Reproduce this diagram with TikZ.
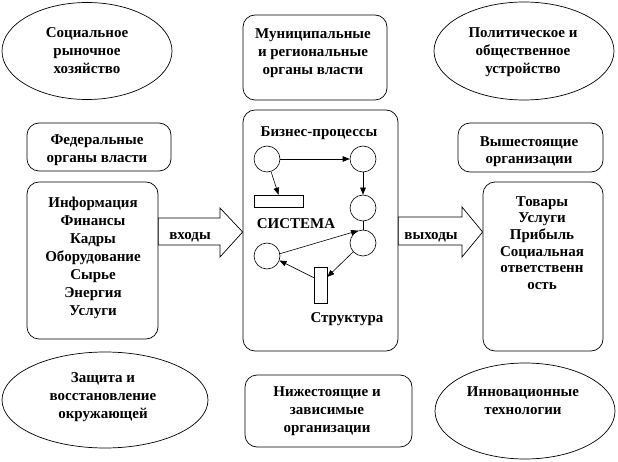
\documentclass[tikz,border=0pt]{standalone}
\usepackage{fontspec}
\setmainfont{Liberation Serif}
\usetikzlibrary{shapes.geometric,arrows.meta,calc}
\begin{document}
\begin{tikzpicture}[x=1pt,y=-1pt,
  txt/.style={font=\fontsize{15}{18}\selectfont\bfseries, align=center, inner sep=0pt},
  txtb/.style={txt, font=\fontsize{15}{16.7}\selectfont\bfseries},
  oval/.style={draw, line width=0.7pt, ellipse, inner sep=0pt},
  rbox/.style={draw, line width=0.7pt, rounded corners=12pt, inner sep=0pt},
  bigarrow/.style={draw, line width=0.7pt, fill=white},
  proc/.style={draw, line width=0.6pt, circle, minimum size=26pt, inner sep=0pt},
  bar/.style={draw, line width=0.6pt, rectangle, inner sep=0pt},
  flow/.style={line width=0.6pt, -{Triangle[length=7pt,width=5.5pt]}},
  link/.style={line width=0.6pt}
]
\useasboundingbox (0,0) rectangle (618,462);

% ellipses
\node[oval, minimum width=170pt, minimum height=97pt] (soc) at (87,51) {};
\node[txt] (soct) at (87,51) {Социальное\\рыночное\\хозяйство};
\node[oval, minimum width=180pt, minimum height=98pt] (pol) at (524,51) {};
\node[txt] (polt) at (523,52) {Политическое и\\общественное\\устройство};
\node[oval, minimum width=206pt, minimum height=96pt] (zas) at (105,400) {};
\node[txt] (zast) at (103,397) {Защита и\\восстановление\\окружающей};
\node[oval, minimum width=180pt, minimum height=96pt] (inn) at (525,411) {};
\node[txt] (innt) at (523,401) {Инновационные\\технологии};

% rounded boxes
\node[rbox, minimum width=144pt, minimum height=85pt] (mun) at (315,57.5) {};
\node[txt] (munt) at (313,53) {Муниципальные\\и региональные\\органы власти};
\node[rbox, minimum width=144pt, minimum height=48pt] (fed) at (99,147) {};
\node[txt] (fedt) at (97,150) {Федеральные\\органы власти};
\node[rbox, minimum width=131pt, minimum height=157pt] (inp) at (92.5,260.5) {};
\node[txt] (inpt) at (93,258) {Информация\\Финансы\\Кадры\\Оборудование\\Сырье\\Энергия\\Услуги};
\node[rbox, minimum width=145pt, minimum height=49pt] (vys) at (530.5,147.5) {};
\node[txt, font=\fontsize{15}{17}\selectfont\bfseries] (vyst) at (529,151.5) {Вышестоящие\\организации};
\node[rbox, minimum width=120pt, minimum height=169pt] (out) at (543,266.5) {};
\node[txtb] (outt) at (542,243) {Товары\\Услуги\\Прибыль\\Социальная\\ответственн\\ость};
\node[rbox, minimum width=167pt, minimum height=72pt] (niz) at (328.5,411) {};
\node[txt] (nizt) at (327,411) {Нижестоящие и\\зависимые\\организации};

% central system box
\node[rbox, minimum width=155pt, minimum height=241pt] (sys) at (320.5,230.5) {};

% big arrows
\draw[bigarrow] (inp.east |- 0,218) -- (220,218) -- (220,208) -- (sys.west |- 0,232)
  -- (220,257) -- (220,245) -- (inp.east |- 0,245) -- cycle;
\node[txt] (vhod) at (190,237) {входы};
\draw[bigarrow] (sys.east |- 0,217) -- (462,217) -- (462,207) -- (out.west |- 0,232)
  -- (462,257) -- (462,245) -- (sys.east |- 0,245) -- cycle;
\node[txt] (vyhod) at (431,237) {выходы};

% inner process diagram
\node[txt] (bp) at (319,133) {Бизнес-процессы};
\node[txt] (sist) at (296,224) {СИСТЕМА};
\node[txt] (str) at (347,319) {Структура};
\node[proc] (cA) at (267,159) {};
\node[proc] (cB) at (363,159) {};
\node[proc] (cC) at (363,208) {};
\node[proc] (cD) at (363,243) {};
\node[proc] (cE) at (267,256) {};
\node[bar, minimum width=49pt, minimum height=12pt] (r1) at (278.5,201) {};
\node[bar, minimum width=13pt, minimum height=36pt] (r2) at (320.5,285) {};

\draw[flow] (cA) -- (cB);
\draw[flow] (cA) -- (r1.north);
\draw[flow] (cB) -- (cC);
\draw[link] (cC) -- (cD);
\draw[flow] (cE.10) -- (cD.112);
\draw[flow] (cD.-138) -- ($(r2.north east)!0.28!(r2.south east)$);
\draw[flow] ($(r2.north west)!0.3!(r2.south west)$) -- (cE.-20);
\end{tikzpicture}
\end{document}
